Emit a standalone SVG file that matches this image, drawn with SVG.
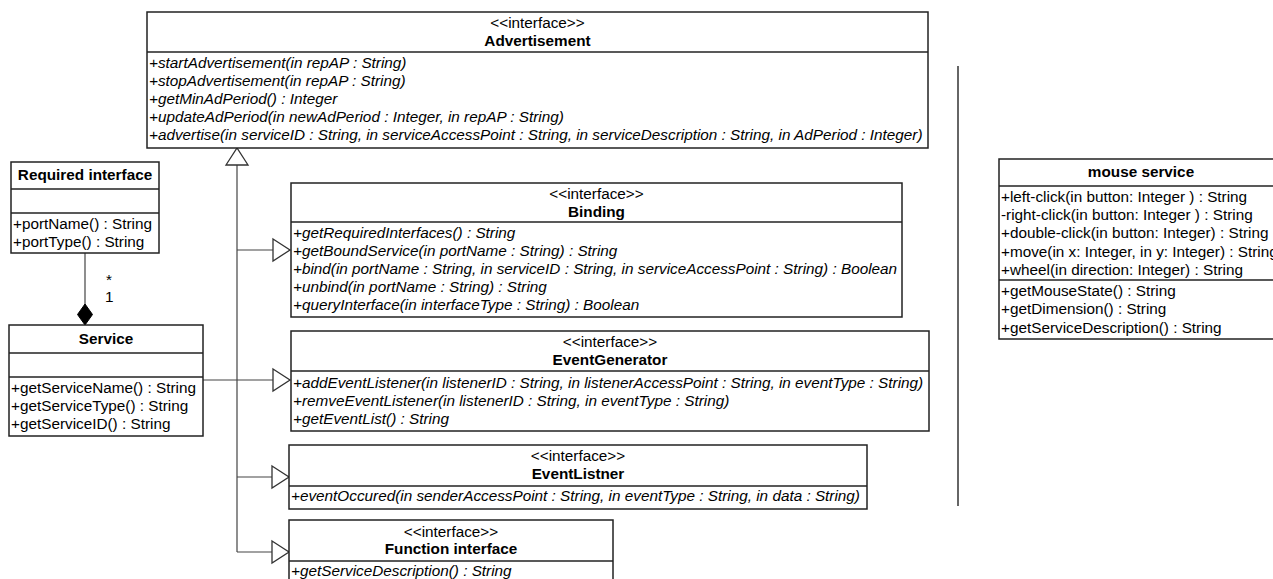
<svg xmlns="http://www.w3.org/2000/svg" width="1273" height="579" viewBox="0 0 1273 579">
  <style>
    text { font-family: "Liberation Sans", Arial, sans-serif; font-size: 15.3px; fill: #000; }
    .title { font-weight: bold; text-anchor: middle; }
    .stereo { text-anchor: middle; }
    .op { font-style: italic; }
    .box { fill: #fff; stroke: #222; stroke-width: 1.5; }
    .div { stroke: #222; stroke-width: 1.5; fill: none; }
    .conn { stroke: #444; stroke-width: 1.2; fill: none; }
    .sep { stroke: #333; stroke-width: 1.5; }
  </style>
  <defs>
    <!-- hollow triangle for generalization / realization -->
    <marker id="tri" viewBox="0 0 17 22" refX="17" refY="11" markerWidth="17" markerHeight="22" markerUnits="userSpaceOnUse" orient="auto" overflow="visible">
      <path d="M0,0 L17,11 L0,22 Z" fill="#fff" stroke="#333" stroke-width="1.3"/>
    </marker>
    <!-- filled diamond for composition -->
    <marker id="diamond" viewBox="0 0 21 15" refX="21" refY="7.5" markerWidth="21" markerHeight="15" markerUnits="userSpaceOnUse" orient="auto" overflow="visible">
      <path d="M0,7.5 L10.5,0 L21,7.5 L10.5,15 Z" fill="#000" stroke="#000" stroke-width="1"/>
    </marker>
  </defs>

  <rect x="0" y="0" width="1273" height="579" fill="#fff"/>

  <!-- connectors -->
  <g id="connectors">
    <path class="conn" d="M237,552 V148" marker-end="url(#tri)"/>
    <path class="conn" d="M237,250 H290" marker-end="url(#tri)"/>
    <path class="conn" d="M203,380 H290" marker-end="url(#tri)"/>
    <path class="conn" d="M237,477 H289" marker-end="url(#tri)"/>
    <path class="conn" d="M237,552 H289" marker-end="url(#tri)"/>
    <path class="conn" d="M85,253 V325" marker-end="url(#diamond)"/>
    <text x="106" y="285" font-size="13">*</text>
    <text x="105" y="302">1</text>
  </g>

  <!-- Advertisement -->
  <g id="advertisement">
    <rect class="box" x="147" y="12" width="781" height="136"/>
    <line class="div" x1="147" y1="52" x2="928" y2="52"/>
    <text class="stereo" x="537.5" y="28">&lt;&lt;interface&gt;&gt;</text>
    <text class="title" x="537.5" y="46">Advertisement</text>
    <text class="op" x="149" y="68">+startAdvertisement(in repAP : String)</text>
    <text class="op" x="149" y="86">+stopAdvertisement(in repAP : String)</text>
    <text class="op" x="149" y="104">+getMinAdPeriod() : Integer</text>
    <text class="op" x="149" y="122">+updateAdPeriod(in newAdPeriod : Integer, in repAP : String)</text>
    <text class="op" x="149" y="140">+advertise(in serviceID : String, in serviceAccessPoint : String, in serviceDescription : String, in AdPeriod : Integer)</text>
  </g>

  <!-- Required interface -->
  <g id="required-interface">
    <rect class="box" x="11" y="162" width="148" height="91"/>
    <line class="div" x1="11" y1="189" x2="159" y2="189"/>
    <line class="div" x1="11" y1="213" x2="159" y2="213"/>
    <text class="title" x="85" y="180">Required interface</text>
    <text x="13" y="229">+portName() : String</text>
    <text x="13" y="247">+portType() : String</text>
  </g>

  <!-- Service -->
  <g id="service">
    <rect class="box" x="9" y="325" width="194" height="111"/>
    <line class="div" x1="9" y1="353" x2="203" y2="353"/>
    <line class="div" x1="9" y1="377" x2="203" y2="377"/>
    <text class="title" x="106" y="344">Service</text>
    <text x="11" y="393">+getServiceName() : String</text>
    <text x="11" y="411">+getServiceType() : String</text>
    <text x="11" y="429">+getServiceID() : String</text>
  </g>

  <!-- Binding -->
  <g id="binding">
    <rect class="box" x="291" y="183" width="611" height="134"/>
    <line class="div" x1="291" y1="222" x2="902" y2="222"/>
    <text class="stereo" x="596.5" y="199">&lt;&lt;interface&gt;&gt;</text>
    <text class="title" x="596.5" y="217">Binding</text>
    <text class="op" x="293" y="238">+getRequiredInterfaces() : String</text>
    <text class="op" x="293" y="256">+getBoundService(in portName : String) : String</text>
    <text class="op" x="293" y="274">+bind(in portName : String, in serviceID : String, in serviceAccessPoint : String) : Boolean</text>
    <text class="op" x="293" y="292">+unbind(in portName : String) : String</text>
    <text class="op" x="293" y="310">+queryInterface(in interfaceType : String) : Boolean</text>
  </g>

  <!-- EventGenerator -->
  <g id="event-generator">
    <rect class="box" x="291" y="331" width="638" height="100"/>
    <line class="div" x1="291" y1="371" x2="929" y2="371"/>
    <text class="stereo" x="610" y="347">&lt;&lt;interface&gt;&gt;</text>
    <text class="title" x="610" y="365">EventGenerator</text>
    <text class="op" x="293" y="388">+addEventListener(in listenerID : String, in listenerAccessPoint : String, in eventType : String)</text>
    <text class="op" x="293" y="406">+remveEventListener(in listenerID : String, in eventType : String)</text>
    <text class="op" x="293" y="424">+getEventList() : String</text>
  </g>

  <!-- EventListner -->
  <g id="event-listner">
    <rect class="box" x="289" y="445" width="578" height="64"/>
    <line class="div" x1="289" y1="486" x2="867" y2="486"/>
    <text class="stereo" x="578" y="461">&lt;&lt;interface&gt;&gt;</text>
    <text class="title" x="578" y="479">EventListner</text>
    <text class="op" x="291" y="501">+eventOccured(in senderAccessPoint : String, in eventType : String, in data : String)</text>
  </g>

  <!-- Function interface -->
  <g id="function-interface">
    <rect class="box" x="289" y="520" width="324" height="80"/>
    <line class="div" x1="289" y1="561" x2="613" y2="561"/>
    <text class="stereo" x="451" y="537">&lt;&lt;interface&gt;&gt;</text>
    <text class="title" x="451" y="554">Function interface</text>
    <text class="op" x="291" y="576">+getServiceDescription() : String</text>
  </g>

  <!-- separator -->
  <line class="sep" x1="958" y1="66" x2="958" y2="506"/>

  <!-- mouse service -->
  <g id="mouse-service">
    <rect class="box" x="999" y="159" width="290" height="180"/>
    <line class="div" x1="999" y1="186" x2="1289" y2="186"/>
    <line class="div" x1="999" y1="280" x2="1289" y2="280"/>
    <text class="title" x="1141" y="177">mouse service</text>
    <text x="1001" y="202">+left-click(in button: Integer ) : String</text>
    <text x="1001" y="220">-right-click(in button: Integer ) : String</text>
    <text x="1001" y="238">+double-click(in button: Integer) : String</text>
    <text x="1001" y="257">+move(in x: Integer, in y: Integer) : String</text>
    <text x="1001" y="275">+wheel(in direction: Integer) : String</text>
    <text x="1001" y="296">+getMouseState() : String</text>
    <text x="1001" y="314">+getDimension() : String</text>
    <text x="1001" y="333">+getServiceDescription() : String</text>
  </g>
</svg>
